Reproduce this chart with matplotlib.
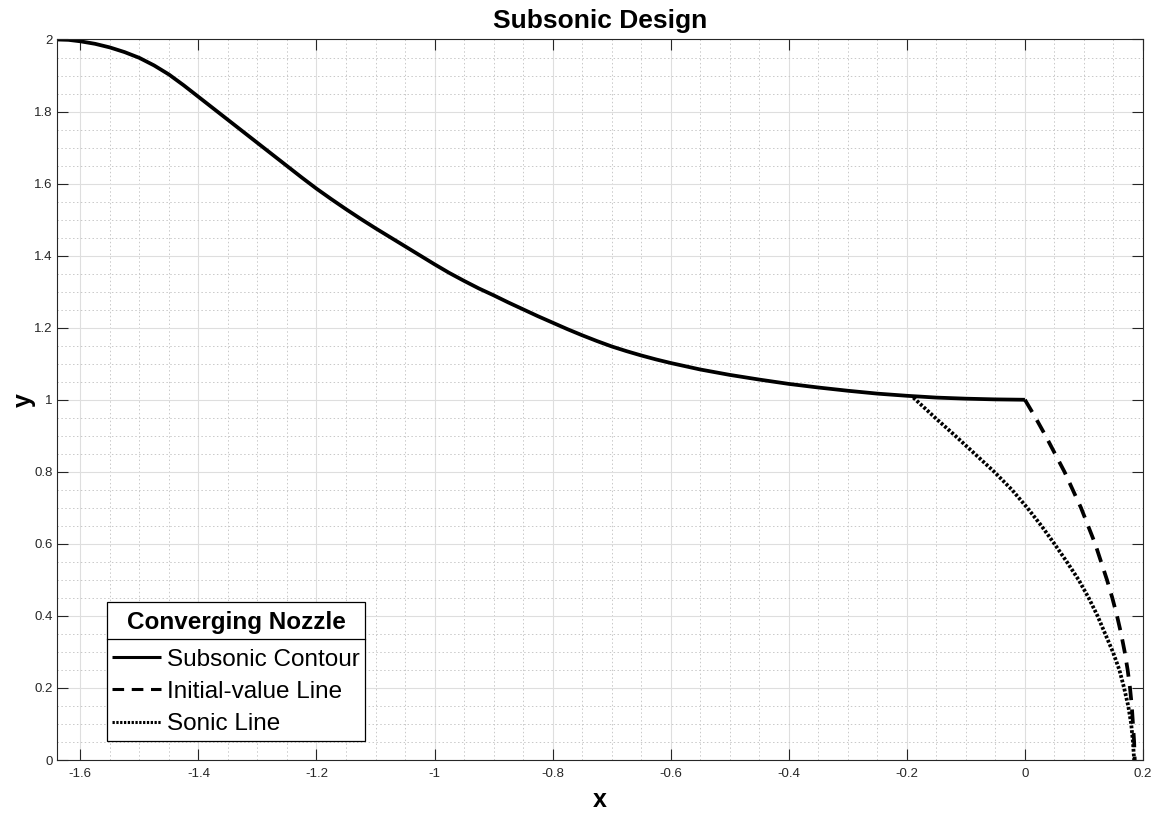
import matplotlib
matplotlib.use("Agg")
import matplotlib.pyplot as plt
from matplotlib.lines import Line2D
from matplotlib.ticker import MultipleLocator
from matplotlib.offsetbox import PaddedBox

plt.rcParams['font.family'] = ['Liberation Sans', 'DejaVu Sans']

# Subsonic contour
contour_x = [-1.6395, -1.62, -1.6, -1.575, -1.55, -1.525, -1.5, -1.475, -1.45,
             -1.425, -1.4, -1.375, -1.35, -1.325, -1.3, -1.275, -1.25, -1.225,
             -1.2, -1.175, -1.15, -1.125, -1.1, -1.075, -1.05, -1.025, -1.0,
             -0.975, -0.95, -0.925, -0.9, -0.875, -0.85, -0.825, -0.8, -0.775,
             -0.75, -0.725, -0.7, -0.675, -0.65, -0.625, -0.6, -0.55, -0.5,
             -0.45, -0.4, -0.35, -0.3, -0.25, -0.2, -0.15, -0.1, -0.05, 0.0]
contour_y = [2.0, 1.999, 1.995, 1.988, 1.978, 1.965, 1.949, 1.928, 1.903,
             1.873, 1.841, 1.809, 1.777, 1.745, 1.713, 1.681, 1.649, 1.617,
             1.586, 1.557, 1.529, 1.502, 1.476, 1.451, 1.426, 1.401, 1.376,
             1.352, 1.330, 1.309, 1.290, 1.270, 1.251, 1.232, 1.214, 1.196,
             1.179, 1.163, 1.148, 1.135, 1.123, 1.112, 1.102, 1.084, 1.069,
             1.056, 1.044, 1.034, 1.025, 1.017, 1.011, 1.006, 1.003, 1.001, 1.0]

# Initial-value line
initial_x = [0.0, 0.018, 0.035, 0.051, 0.067, 0.081, 0.095, 0.107, 0.119,
             0.129, 0.139, 0.148, 0.156, 0.163, 0.169, 0.174, 0.178, 0.181,
             0.183, 0.185, 0.186]
initial_y = [1.0, 0.95, 0.9, 0.85, 0.8, 0.75, 0.7, 0.65, 0.6,
             0.55, 0.5, 0.45, 0.4, 0.35, 0.3, 0.25, 0.2, 0.15,
             0.1, 0.05, 0.0]

# Sonic line
sonic_x = [-0.189, -0.152, -0.118, -0.085, -0.052, -0.022, 0.004, 0.028, 0.05,
           0.071, 0.091, 0.108, 0.123, 0.136, 0.149, 0.16, 0.168, 0.175,
           0.18, 0.183, 0.185]
sonic_y = [1.006, 0.95, 0.9, 0.85, 0.8, 0.75, 0.7, 0.65, 0.6,
           0.55, 0.5, 0.45, 0.4, 0.35, 0.3, 0.25, 0.2, 0.15,
           0.1, 0.05, 0.0]

x_ticks = [-1.6, -1.4, -1.2, -1.0, -0.8, -0.6, -0.4, -0.2, 0.0, 0.2]
x_tick_labels = ['-1.6', '-1.4', '-1.2', '-1', '-0.8', '-0.6', '-0.4', '-0.2', '0', '0.2']
y_ticks = [0, 0.2, 0.4, 0.6, 0.8, 1.0, 1.2, 1.4, 1.6, 1.8, 2.0]
y_tick_labels = ['0', '0.2', '0.4', '0.6', '0.8', '1', '1.2', '1.4', '1.6', '1.8', '2']

fig = plt.figure(figsize=(11.58, 8.13), dpi=100)
ax = fig.add_axes([57 / 1158, 53 / 813, 1086 / 1158, 720.5 / 813])

lw = 2.7
ax.plot(contour_x, contour_y, color='black', lw=lw, solid_capstyle='butt',
        solid_joinstyle='round', label='Subsonic Contour')
ax.plot(initial_x, initial_y, color='black', lw=lw, linestyle=(0, (3.8, 2.5)),
        dash_capstyle='butt', label='Initial-value Line')
ax.plot(sonic_x, sonic_y, color='black', lw=lw, linestyle=(0, (0.75, 0.5)),
        dash_capstyle='butt', label='Sonic Line')

ax.set_xlim(-1.6395, 0.2)
ax.set_ylim(0, 2)
ax.set_xticks(x_ticks)
ax.set_xticklabels(x_tick_labels)
ax.set_yticks(y_ticks)
ax.set_yticklabels(y_tick_labels)
ax.xaxis.set_minor_locator(MultipleLocator(0.05))
ax.yaxis.set_minor_locator(MultipleLocator(0.05))

axc = '#262626'
ax.tick_params(which='major', direction='in', length=8, width=0.8, color=axc,
               top=True, right=True, labelsize=9.5, labelcolor=axc)
ax.tick_params(axis='x', which='major', pad=6)
ax.tick_params(axis='y', which='major', pad=3)
ax.tick_params(which='minor', length=0, top=True, right=True)
for s in ax.spines.values():
    s.set_color(axc)
    s.set_linewidth(0.8)

ax.grid(which='major', color='#dedede', linestyle='-', linewidth=0.8)
ax.grid(which='minor', color='#c8c8c8', linestyle=(0, (1.5, 2.5)), linewidth=0.7)
ax.set_axisbelow(True)

ax.set_title('Subsonic Design', fontsize=19, fontweight='bold', pad=8.5)
ax.set_xlabel('x', fontsize=18, fontweight='bold', labelpad=5.5)
ax.set_ylabel('y', fontsize=18, fontweight='bold', labelpad=-1)

leg = ax.legend(loc='lower left', bbox_to_anchor=(0.046, 0.027), borderaxespad=0,
                title='Converging Nozzle', fontsize=17.5,
                title_fontproperties={'weight': 'bold', 'size': 17.5},
                fancybox=False, edgecolor='black', framealpha=1,
                handlelength=2.0, handletextpad=0.25, labelspacing=0.42,
                borderpad=0.22)
leg.get_frame().set_linewidth(0.9)
for h in leg.get_lines():
    h.set_linewidth(2.2)
# extra vertical room around the legend title (MATLAB-like title band)
tbox = leg._legend_box.get_children()[0]
leg._legend_box._children[0] = PaddedBox(tbox, pad=3.0, draw_frame=False)

fig.canvas.draw()
renderer = fig.canvas.get_renderer()
tb = leg.get_title().get_window_extent(renderer)
eb = leg.get_texts()[0].get_window_extent(renderer)
fb = leg.get_frame().get_window_extent(renderer)
tc = 0.5 * (tb.y0 + tb.y1)
ec = 0.5 * (eb.y0 + eb.y1)
ysep = tc - 0.45 * (tc - ec)
inv = fig.transFigure.inverted()
(x0f, yf), (x1f, _) = inv.transform([(fb.x0, ysep), (fb.x1, ysep)])
fig.add_artist(Line2D([x0f, x1f], [yf, yf], transform=fig.transFigure,
                      color='black', lw=0.9, zorder=10))

fig.savefig('out.png', dpi=100)
